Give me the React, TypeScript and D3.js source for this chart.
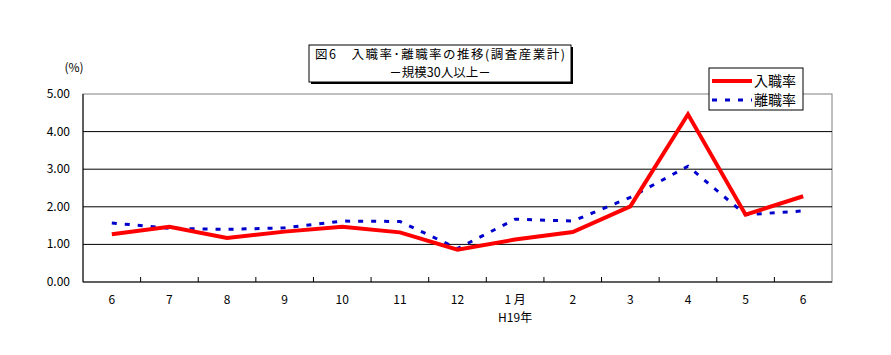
import React from "react";
import * as d3 from "d3";

const months = ["6", "7", "8", "9", "10", "11", "12", "1 月", "2", "3", "4", "5", "6"];
const hireRate = [1.27, 1.47, 1.17, 1.34, 1.47, 1.32, 0.86, 1.13, 1.33, 2.01, 4.46, 1.79, 2.28];
const sepRate = [1.57, 1.43, 1.4, 1.44, 1.62, 1.61, 0.89, 1.67, 1.62, 2.25, 3.08, 1.79, 1.89];
const yTicks = [0, 1, 2, 3, 4, 5];

const W = 891;
const H = 355;
const left = 83;
const right = 832;
const top = 94;
const bottom = 282;
const font = "'Noto Sans CJK JP', 'DejaVu Sans', sans-serif";

export default function App() {
  const x = d3.scaleBand<number>().domain(months.map((_, i) => i)).range([left, right]);
  const y = d3.scaleLinear().domain([0, 5]).range([bottom, top]);
  const cx = (i: number) => (x(i) as number) + x.bandwidth() / 2;

  const line = d3.line<number>().x((_, i) => cx(i)).y(d => y(d));

  return (
    <svg width={W} height={H} style={{ display: "block", position: "absolute", left: 0, top: 0 }} fontFamily={font}>
      <rect x={0} y={0} width={W} height={H} fill="#fff" />
      {/* plot border */}
      <rect x={left} y={top} width={right - left} height={bottom - top} fill="none" stroke="#808080" strokeWidth={1} />
      {yTicks.map(t => (
        <g key={t}>
          {t > 0 && t < 5 && <line x1={left} x2={right} y1={y(t)} y2={y(t)} stroke="#000" strokeWidth={1} />}
          <text x={70} y={y(t) + 4} textAnchor="end" fontSize={12}>{t.toFixed(2)}</text>
        </g>
      ))}
      <line x1={left} x2={left} y1={top} y2={bottom} stroke="#000" />
      <line x1={left} x2={right} y1={bottom} y2={bottom} stroke="#000" />
      {months.map((m, i) => (
        <g key={i}>
          {i > 0 && <line x1={x(i) as number} x2={x(i) as number} y1={bottom} y2={bottom - 5} stroke="#000" />}
          <text x={cx(i)} y={304} textAnchor="middle" fontSize={12}>{m}</text>
        </g>
      ))}
      <text x={cx(7)} y={322} textAnchor="middle" fontSize={12}>H19年</text>
      <text x={74} y={72} textAnchor="middle" fontSize={12}>(%)</text>

      <path d={line(sepRate) ?? ""} fill="none" stroke="#0000cc" strokeWidth={3} strokeDasharray="5 8" />
      <path d={line(hireRate) ?? ""} fill="none" stroke="#ff0000" strokeWidth={4} strokeLinejoin="miter" />

      {/* title */}
      <rect x={311} y={47} width={262} height={37} fill="#000" />
      <rect x={309} y={45} width={262} height={37} fill="#fff" stroke="#000" />
      <text x={440} y={59} textAnchor="middle" fontSize={12.5} textLength={250}>図6　入職率･離職率の推移(調査産業計)</text>
      <text x={440} y={77} textAnchor="middle" fontSize={12.5}>－規模30人以上－</text>

      {/* legend */}
      <rect x={709} y={68} width={94} height={42} fill="#fff" stroke="#000" />
      <line x1={712} x2={752} y1={81} y2={81} stroke="#ff0000" strokeWidth={4} />
      <text x={754} y={86} fontSize={14}>入職率</text>
      <line x1={712} x2={752} y1={100} y2={100} stroke="#0000cc" strokeWidth={3} strokeDasharray="5 8" />
      <text x={754} y={105} fontSize={14}>離職率</text>
    </svg>
  );
}
